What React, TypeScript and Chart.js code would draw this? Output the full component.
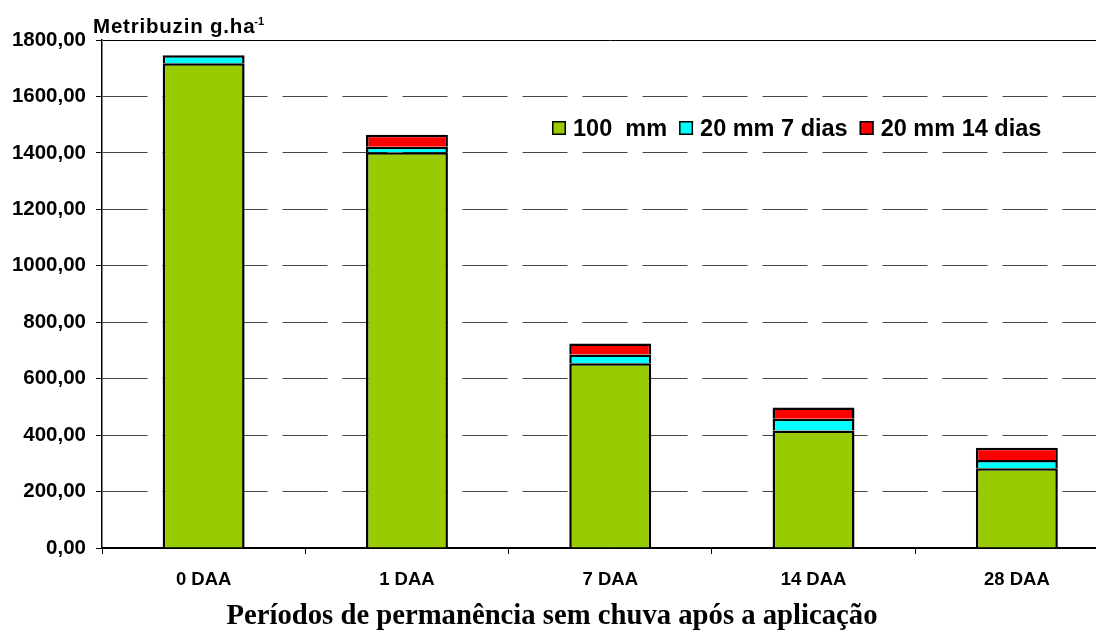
import { useEffect, useRef } from 'react';
import { Chart, registerables } from 'chart.js';

Chart.register(...registerables);

// Categories: days without rain after application
const categories = ['0 DAA', '1 DAA', '7 DAA', '14 DAA', '28 DAA'];

// Metribuzin (g/ha) recovered per simulated rain regime
const rain100mm = [1718, 1402, 655, 416, 283];
const rain20mm7dias = [28, 20, 31, 42, 29];
const rain20mm14dias = [0, 42, 39, 40, 43];

const seriesLabels = ['100  mm', '20 mm 7 dias', '20 mm 14 dias'];
const seriesColors = ['#99CC00', '#00FFFF', '#FF0000'];

const yMin = 0;
const yMax = 1800;
const yStep = 200;

const unitLabel = 'Metribuzin g.ha';
const unitSup = '-1';
const xTitle = 'Períodos de permanência sem chuva após a aplicação';

const SANS = '"Liberation Sans", Arial, sans-serif';
const SERIF = '"Liberation Serif", "Times New Roman", serif';

const CANVAS_W = 1112;
const CANVAS_H = 628;

const annotations = {
  id: 'annotations',
  afterDraw(chart: any) {
    const { ctx, chartArea } = chart;
    ctx.save();
    ctx.fillStyle = '#000';
    ctx.textBaseline = 'alphabetic';

    // unit label above the value axis
    ctx.font = `bold 20.5px ${SANS}`;
    ctx.letterSpacing = '0.8px';
    ctx.textAlign = 'left';
    const ux = chartArea.left - 9;
    const uy = chartArea.top - 7;
    ctx.fillText(unitLabel, ux, uy);
    const uw = ctx.measureText(unitLabel).width;
    ctx.font = `bold 11px ${SANS}`;
    ctx.letterSpacing = '0px';
    ctx.fillText(unitSup, ux + uw - 1, uy - 8);

    // legend inside the plot
    ctx.font = `bold 23.5px ${SANS}`;
    let x = chartArea.left + 450;
    const boxTop = chartArea.top + 81;
    const base = chartArea.top + 95.5;
    chart.data.datasets.forEach((ds: any) => {
      ctx.fillStyle = ds.backgroundColor;
      ctx.fillRect(x, boxTop, 14, 14);
      ctx.strokeStyle = '#000';
      ctx.lineWidth = 1.5;
      ctx.strokeRect(x + 0.75, boxTop + 0.75, 12.5, 12.5);
      x += 21;
      ctx.fillStyle = '#000';
      ctx.fillText(ds.label, x, base);
      x += ctx.measureText(ds.label).width + 12;
    });

    // category axis title
    ctx.font = `bold 28.7px ${SERIF}`;
    ctx.textAlign = 'center';
    ctx.fillText(xTitle, 552 - 8, 616);
    ctx.restore();
  },
};

export default function App() {
  const canvasRef = useRef<HTMLCanvasElement | null>(null);

  useEffect(() => {
    if (!canvasRef.current) return;
    Chart.defaults.font.family = SANS;
    const values = [rain100mm, rain20mm7dias, rain20mm14dias];
    const chart = new Chart(canvasRef.current, {
      type: 'bar',
      data: {
        labels: categories,
        datasets: values.map((v, i) => ({
          label: seriesLabels[i],
          data: v,
          backgroundColor: seriesColors[i],
          borderColor: '#000',
          borderWidth: 2.5,
          barPercentage: 0.403,
          categoryPercentage: 1,
        })),
      },
      options: {
        responsive: false,
        animation: false,
        events: [],
        layout: { padding: { left: 0, top: 32, right: 1.5, bottom: 0 } },
        plugins: {
          legend: { display: false },
          tooltip: { enabled: false },
          title: { display: false },
        },
        scales: {
          x: {
            stacked: true,
            offset: true,
            grid: {
              offset: true,
              drawOnChartArea: false,
              tickLength: 6,
              tickColor: '#000',
              color: '#000',
            },
            border: { color: '#000', width: 1.5 },
            ticks: {
              color: '#000',
              padding: 15,
              font: { family: SANS, size: 18.5, weight: 'bold' },
              maxRotation: 0,
            },
            afterFit: (s: any) => {
              s.height = CANVAS_H - 540;
            },
          },
          y: {
            stacked: true,
            min: yMin,
            max: yMax,
            ticks: {
              stepSize: yStep,
              color: '#000',
              padding: 10,
              font: { family: SANS, size: 20.5, weight: 'bold' },
              callback: (v: any) => Number(v).toFixed(2).replace('.', ','),
            },
            grid: {
              color: (c: any) =>
                c.tick && (c.tick.value === yMax || c.tick.value === yMin) ? '#000' : '#444',
              tickLength: 6,
              tickColor: '#000',
              tickBorderDash: [],
              lineWidth: 1,
            },
            border: {
              color: '#000',
              width: 1.5,
              dash: (c: any) =>
                c.tick && (c.tick.value === yMax || c.tick.value === yMin) ? [] : [45, 15],
            },
            afterFit: (s: any) => {
              s.width = 94;
            },
          },
        },
      },
      plugins: [annotations],
    });
    return () => chart.destroy();
  }, []);

  return (
    <div style={{ width: 1096, height: CANVAS_H, overflow: 'hidden' }}>
      <canvas
        ref={canvasRef}
        width={CANVAS_W}
        height={CANVAS_H}
        style={{ display: 'block' }}
      />
    </div>
  );
}
